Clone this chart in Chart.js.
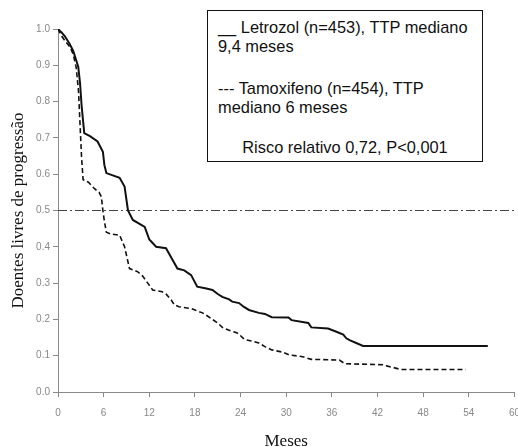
<!DOCTYPE html>
<html>
<head>
<meta charset="utf-8">
<script src="https://cdn.jsdelivr.net/npm/chart.js@4/dist/chart.umd.min.js"></script>
<style>
  html, body { margin: 0; padding: 0; background: #fff; }
  body { width: 518px; height: 447px; overflow: hidden; position: relative; }
  #wrap { position: absolute; left: 0; top: 0; width: 530px; height: 452px; }
  #legendBox {
    position: absolute; left: 207px; top: 10px; width: 274px; height: 150px;
    border: 1.5px solid #111; background: #fff;
    font-family: "Liberation Sans", Arial, sans-serif; font-size: 16.4px; color: #111;
    line-height: 18.5px;
  }
  #legendBox p { position: absolute; margin: 0; left: 10px; white-space: nowrap; }
</style>
</head>
<body>
<div id="wrap"><canvas id="chart"></canvas></div>
<div id="legendBox">
  <p style="top:7px">__ Letrozol (n=453), TTP mediano<br>9,4 meses</p>
  <p style="top:68px">--- Tamoxifeno (n=454), TTP<br>mediano 6 meses</p>
  <p style="top:127px; left:0; width:274px; text-align:center">Risco relativo 0,72, P&lt;0,001</p>
</div>
<script>
// points (months, proportion free of progression)
const letrozolMonths = [0, 0.5, 0.9, 1.5, 2.0, 2.66, 2.9, 3.1, 3.45, 4.2, 5.2, 5.9, 6.1, 6.36, 8.1, 8.75, 9.2, 9.84, 11.4, 12.0, 12.9, 14.2, 14.9, 15.7, 16.6, 17.5, 18.3, 19.5, 20.3, 21.0, 21.6, 22.5, 22.9, 23.8, 24.4, 25.1, 26.4, 27.2, 28.1, 30.3, 30.7, 32.9, 33.3, 35.5, 36.6, 37.5, 37.9, 38.4, 39.2, 40.1, 56.5];
const letrozolValues = [1.0, 0.99, 0.98, 0.96, 0.94, 0.896, 0.85, 0.79, 0.713, 0.705, 0.69, 0.662, 0.625, 0.603, 0.59, 0.566, 0.50, 0.474, 0.455, 0.42, 0.40, 0.396, 0.37, 0.34, 0.335, 0.322, 0.29, 0.285, 0.281, 0.27, 0.262, 0.255, 0.249, 0.245, 0.235, 0.226, 0.218, 0.215, 0.206, 0.205, 0.198, 0.19, 0.178, 0.175, 0.166, 0.158, 0.148, 0.142, 0.135, 0.127, 0.127];

const tamoxifenoMonths = [0, 0.5, 1.0, 1.6, 2.0, 2.4, 2.7, 3.1, 3.3, 4.0, 4.8, 5.4, 5.7, 5.9, 6.1, 6.36, 7.0, 8.1, 8.75, 9.4, 10.5, 11.1, 11.8, 12.45, 13.7, 14.2, 14.9, 15.3, 15.9, 17.5, 18.1, 19.0, 19.6, 20.3, 21.0, 21.6, 22.5, 23.5, 24.0, 24.5, 25.5, 26.4, 27.2, 28.1, 29.5, 30.4, 32.0, 33.3, 37.0, 37.7, 42.8, 43.2, 45.1, 53.6];
const tamoxifenoValues = [1.0, 0.98, 0.965, 0.95, 0.93, 0.893, 0.827, 0.645, 0.585, 0.578, 0.56, 0.55, 0.538, 0.50, 0.47, 0.44, 0.435, 0.432, 0.40, 0.34, 0.331, 0.32, 0.30, 0.281, 0.276, 0.27, 0.253, 0.24, 0.235, 0.23, 0.225, 0.218, 0.21, 0.20, 0.19, 0.178, 0.17, 0.163, 0.155, 0.145, 0.14, 0.135, 0.125, 0.116, 0.11, 0.102, 0.098, 0.09, 0.088, 0.078, 0.075, 0.072, 0.062, 0.062];

const medianLine = [0.5, 0.5];
const medianMonths = [0, 60];

const xTicks = [0, 6, 12, 18, 24, 30, 36, 42, 48, 54, 60];
const yTicks = [0.0, 0.1, 0.2, 0.3, 0.4, 0.5, 0.6, 0.7, 0.8, 0.9, 1.0];

function toPoints(xs, ys) {
  return xs.map((x, i) => ({ x: x, y: ys[i] }));
}

const gray = '#8a8a8a';

theChart = new Chart(document.getElementById("chart"), {
  type: 'line',
  data: {
    datasets: [
      {
        label: 'Letrozol',
        data: toPoints(letrozolMonths, letrozolValues),
        borderColor: '#111',
        borderWidth: 2,
        pointRadius: 0
      },
      {
        label: 'Tamoxifeno',
        data: toPoints(tamoxifenoMonths, tamoxifenoValues),
        borderColor: '#111',
        borderWidth: 1.6,
        borderDash: [5, 3],
        pointRadius: 0
      },
      {
        label: 'mediana',
        data: toPoints(medianMonths, medianLine),
        borderColor: '#444',
        borderWidth: 1,
        borderDash: [9, 3, 2, 3],
        pointRadius: 0
      }
    ]
  },
  options: {
    responsive: true,
    maintainAspectRatio: false,
    animation: false,
    layout: { padding: { top: 29, right: 13, left: 0, bottom: 0 } },
    plugins: { legend: { display: false }, tooltip: { enabled: false } },
    scales: {
      x: {
        type: 'linear', min: 0, max: 60,
        afterFit: s => { s.height = 60; },
        afterBuildTicks: s => { s.ticks = xTicks.map(v => ({ value: v })); },
        grid: { drawOnChartArea: false, drawTicks: true, tickLength: 5, color: gray },
        border: { color: gray, width: 1 },
        ticks: { color: '#888', padding: 10, maxRotation: 0,
                 font: { family: 'Liberation Sans', size: 10 } },
        title: { display: true, text: 'Meses', color: '#111', padding: { top: 0, bottom: 0 },
                 font: { family: 'Liberation Serif', size: 17 } }
      },
      y: {
        type: 'linear', min: 0, max: 1,
        afterFit: s => { s.width = 58; },
        afterBuildTicks: s => { s.ticks = yTicks.map(v => ({ value: v })); },
        grid: { drawOnChartArea: false, drawTicks: true, tickLength: 5, color: gray },
        border: { color: gray, width: 1 },
        ticks: { color: '#888', padding: 3, callback: v => v.toFixed(1),
                 font: { family: 'Liberation Sans', size: 10 } },
        title: { display: true, text: 'Doentes livres de progressão', color: '#111',
                 padding: { top: 8, bottom: 0 },
                 font: { family: 'Liberation Serif', size: 17 } }
      }
    }
  }
});
</script>
</body>
</html>
